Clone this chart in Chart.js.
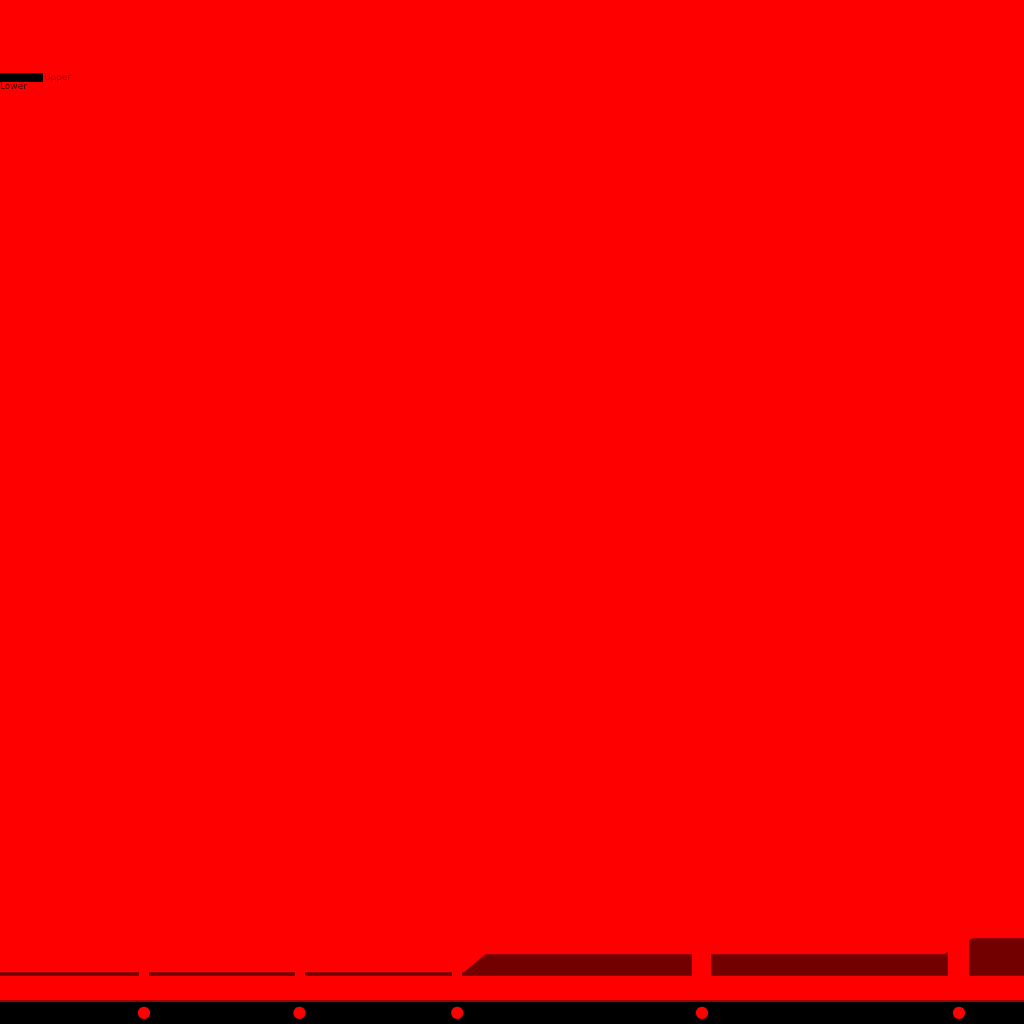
<!DOCTYPE html>
<html>
<head>
<meta charset="utf-8">
<style>
  html, body { margin: 0; padding: 0; background: #ff0000; }
  #wrap { width: 1024px; height: 1024px; }
</style>
<script src="https://cdn.jsdelivr.net/npm/chart.js@4"></script>
</head>
<body>
<div id="wrap"><canvas id="myChart" width="1024" height="1024"></canvas></div>
<script>
// x positions of the ticks (0-100 units across the plot)
const tickValues = [14.05, 29.25, 44.65, 68.55, 93.65];
const gridWidths = [10, 10, 10, 19, 21];

// upper edge of the dark band
const upperX = [0, 45.2, 45.3, 47.4, 92.2, 92.5, 94.6, 95.0, 100];
const upperY = [2.8, 2.8, 2.8, 4.6, 4.6, 4.8, 6.0, 6.2, 6.2];
// lower edge
const lowerX = [0, 100];
const lowerY = [2.5, 2.5];

const labels = ['Upper', 'Lower'];

const bgPlugin = {
  id: 'bg',
  beforeDraw(chart) {
    const c = chart.ctx, a = chart.chartArea;
    c.save();
    c.fillStyle = '#ff0000';
    c.fillRect(0, 0, chart.width, chart.height);
    c.fillStyle = '#000000';
    c.fillRect(0, a.bottom, chart.width, chart.height - a.bottom);
    c.restore();
  },
  afterDraw(chart) {
    const c = chart.ctx;
    c.save();
    c.fillStyle = '#000000';
    c.fillRect(0, 73, 43, 9);
    c.fillStyle = '#a00000';
    c.font = '9px "DejaVu Sans"';
    c.textBaseline = 'middle';
    c.fillText(labels[0], 44, 78);
    c.fillStyle = '#3a0000';
    c.fillText(labels[1], 0, 87);
    c.restore();
  }
};

const ctx = document.getElementById('myChart');

new Chart(ctx, {
  type: 'line',
  data: {
    datasets: [{
      label: labels[0],
      data: upperX.map((x, i) => ({ x: x, y: upperY[i] })),
      borderColor: '#720000',
      backgroundColor: '#720000',
      borderWidth: 1,
      pointRadius: 0,
      fill: 1
    }, {
      label: labels[1],
      data: lowerX.map((x, i) => ({ x: x, y: lowerY[i] })),
      borderColor: '#720000',
      borderWidth: 0,
      pointRadius: 0,
      fill: false
    }]
  },
  plugins: [bgPlugin],
  options: {
    responsive: false,
    animation: false,
    devicePixelRatio: 1,
    layout: { padding: 0 },
    plugins: {
      legend: { display: false },
      tooltip: { enabled: false }
    },
    scales: {
      x: {
        type: 'linear',
        min: 0,
        max: 100,
        afterBuildTicks: (axis) => {
          axis.ticks = tickValues.map(v => ({ value: v }));
        },
        grid: {
          z: 1,
          color: '#ff0000',
          lineWidth: (c) => gridWidths[c.index] || 10,
          drawTicks: false
        },
        border: { color: '#9b0000', width: 2, z: 2 },
        ticks: {
          color: '#ff0000',
          padding: 2,
          maxRotation: 0,
          font: { size: 16, family: 'DejaVu Sans' },
          callback: () => '●'
        }
      },
      y: {
        display: false,
        min: 0,
        max: 100
      }
    }
  }
});
</script>
</body>
</html>
